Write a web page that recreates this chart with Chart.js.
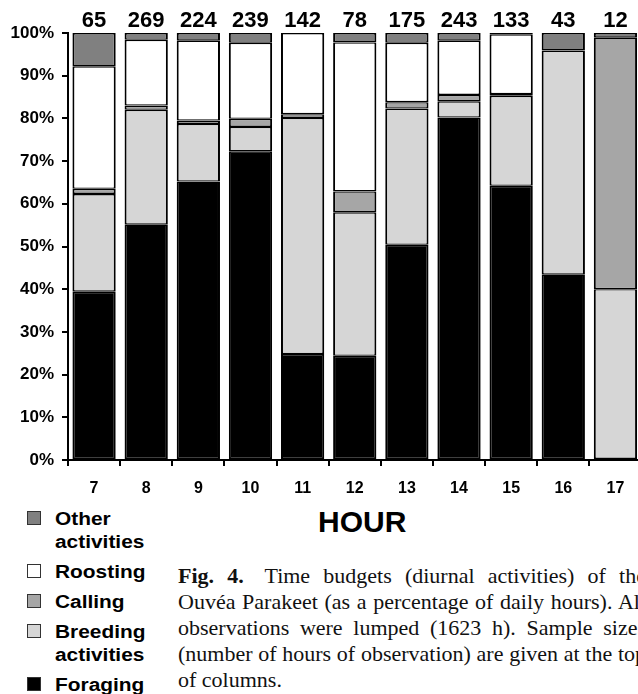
<!DOCTYPE html>
<html>
<head>
<meta charset="utf-8">
<script src="https://cdn.jsdelivr.net/npm/chart.js@4.4.0/dist/chart.umd.min.js"></script>
<style>
html,body{margin:0;padding:0;background:#fff;width:638px;height:694px;overflow:hidden;}
#wrap{position:relative;width:638px;height:694px;overflow:hidden;}
#c{position:absolute;left:0;top:0;}
.sans{font-family:"Liberation Sans",Arial,sans-serif;font-weight:bold;color:#000;}
#hour{position:absolute;left:318px;top:507px;font-size:30px;line-height:30px;white-space:nowrap;}
#legend{position:absolute;left:27px;top:507.5px;}
.item{position:relative;margin-bottom:7px;}
.box{position:absolute;left:0;top:3px;width:12px;height:12px;border:1.5px solid #333;}
.lt{margin-left:28px;font-size:18px;line-height:23px;transform:scaleX(1.16);transform-origin:0 0;white-space:nowrap;}
#cap{position:absolute;left:178px;top:562.5px;font-family:"Liberation Serif","Times New Roman",serif;font-size:22px;line-height:26.2px;color:#111;}
.cl{white-space:nowrap;height:26.2px;}
.cl span.t{display:inline-block;white-space:nowrap;}
</style>
</head>
<body>
<div id="wrap">
  <canvas id="c" width="642" height="500" style="width:642px;height:500px"></canvas>
  <div id="hour" class="sans">HOUR</div>
  <div id="legend" class="sans"></div>
  <div id="cap">
    <div class="cl"><span class="t j"><b style="margin-right:8px">Fig. 4.</b> Time budgets (diurnal activities) of the</span></div>
    <div class="cl"><span class="t j">Ouvéa Parakeet (as a percentage of daily hours). All</span></div>
    <div class="cl"><span class="t j">observations were lumped (1623 h). Sample sizes</span></div>
    <div class="cl"><span class="t j">(number of hours of observation) are given at the top</span></div>
    <div class="cl"><span class="t">of columns.</span></div>
  </div>
</div>
<script>
// ---- data ----
const hours = ['7','8','9','10','11','12','13','14','15','16','17'];
const sampleSizes = [65, 269, 224, 239, 142, 78, 175, 243, 133, 43, 12];
const foraging = [39.4, 55.1, 65.2, 72.3, 24.8, 24.4, 50.4, 80.2, 64.2, 43.4, 0];
const breeding = [22.9, 26.9, 13.5, 5.7, 55.3, 33.6, 31.9, 3.8, 21.1, 52.5, 40.0];
const calling  = [1.2, 1.0, 0.8, 1.9, 0.9, 4.9, 1.5, 1.5, 0.4, 0, 58.9];
const roosting = [28.7, 15.4, 18.7, 17.8, 19.0, 34.9, 13.9, 12.7, 14.0, 0, 0];
const other    = [7.8, 1.6, 1.8, 2.3, 0, 2.2, 2.3, 1.8, 0.3, 4.1, 1.1];
const yTicks = [0,10,20,30,40,50,60,70,80,90,100];
const seriesNames = ['Foraging', 'Breeding activities', 'Calling', 'Roosting', 'Other activities'];
const seriesColors = ['#000000', '#d6d6d6', '#a6a6a6', '#ffffff', '#808080'];
const seriesData = [foraging, breeding, calling, roosting, other];

const FONT = '"Liberation Sans", Arial, sans-serif';
Chart.defaults.font.family = FONT;
Chart.defaults.color = '#000';

const countLabels = {
  id: 'countLabels',
  afterDatasetsDraw(chart) {
    const ctx = chart.ctx;
    const xs = chart.scales.x;
    ctx.save();
    ctx.font = 'bold 22px ' + FONT;
    ctx.fillStyle = '#000';
    ctx.textAlign = 'center';
    ctx.textBaseline = 'alphabetic';
    sampleSizes.forEach((n, i) => {
      ctx.fillText(String(n), xs.getPixelForValue(i), 27);
    });
    ctx.restore();
  }
};

new Chart(document.getElementById('c'), {
  type: 'bar',
  data: {
    labels: hours,
    datasets: seriesData.map((d, k) => ({
      label: seriesNames[k],
      data: d,
      backgroundColor: seriesColors[k],
      borderColor: '#000',
      borderWidth: {left: 2, right: 2, top: 1.4, bottom: 1.4},
      borderSkipped: false,
      barPercentage: 0.83,
      categoryPercentage: 1.0
    }))
  },
  options: {
    responsive: false,
    animation: false,
    devicePixelRatio: 1,
    layout: {padding: {top: 33, right: 0.5, left: 0, bottom: 0}},
    plugins: {legend: {display: false}, tooltip: {enabled: false}, title: {display: false}},
    scales: {
      x: {
        stacked: true,
        grid: {drawOnChartArea: false, drawTicks: true, tickLength: 6, color: '#000', lineWidth: 2, offset: true},
        border: {display: true, color: '#000', width: 2},
        ticks: {font: {family: FONT, size: 16, weight: 'bold'}, color: '#000', padding: 13, maxRotation: 0, autoSkip: false},
        afterFit(scale) { scale.height = 40; }
      },
      y: {
        stacked: true,
        min: 0, max: 100,
        afterBuildTicks(scale) { scale.ticks = yTicks.map(v => ({value: v})); },
        grid: {drawOnChartArea: false, drawTicks: true, tickLength: 6, color: '#000', lineWidth: 2},
        border: {display: true, color: '#000', width: 2},
        ticks: {font: {family: FONT, size: 17, weight: 'bold'}, color: '#000', padding: 8, callback: v => v + '%'},
        afterFit(scale) { scale.width = 68; }
      }
    }
  },
  plugins: [countLabels]
});

// legend (top-to-bottom order as in the figure)
const legend = document.getElementById('legend');
[4, 3, 2, 1, 0].forEach(k => {
  const item = document.createElement('div');
  item.className = 'item';
  const box = document.createElement('div');
  box.className = 'box';
  box.style.background = seriesColors[k];
  const txt = document.createElement('div');
  txt.className = 'lt';
  txt.innerHTML = seriesNames[k].replace(' ', '<br>');
  item.appendChild(box);
  item.appendChild(txt);
  legend.appendChild(item);
});

// justify caption lines to a common right edge
const TARGET = 468;
document.querySelectorAll('#cap span.j').forEach(sp => {
  const n = (sp.textContent.match(/ /g) || []).length;
  const w = sp.getBoundingClientRect().width;
  if (n > 0) sp.style.wordSpacing = ((TARGET - w) / n) + 'px';
});
</script>
</body>
</html>
